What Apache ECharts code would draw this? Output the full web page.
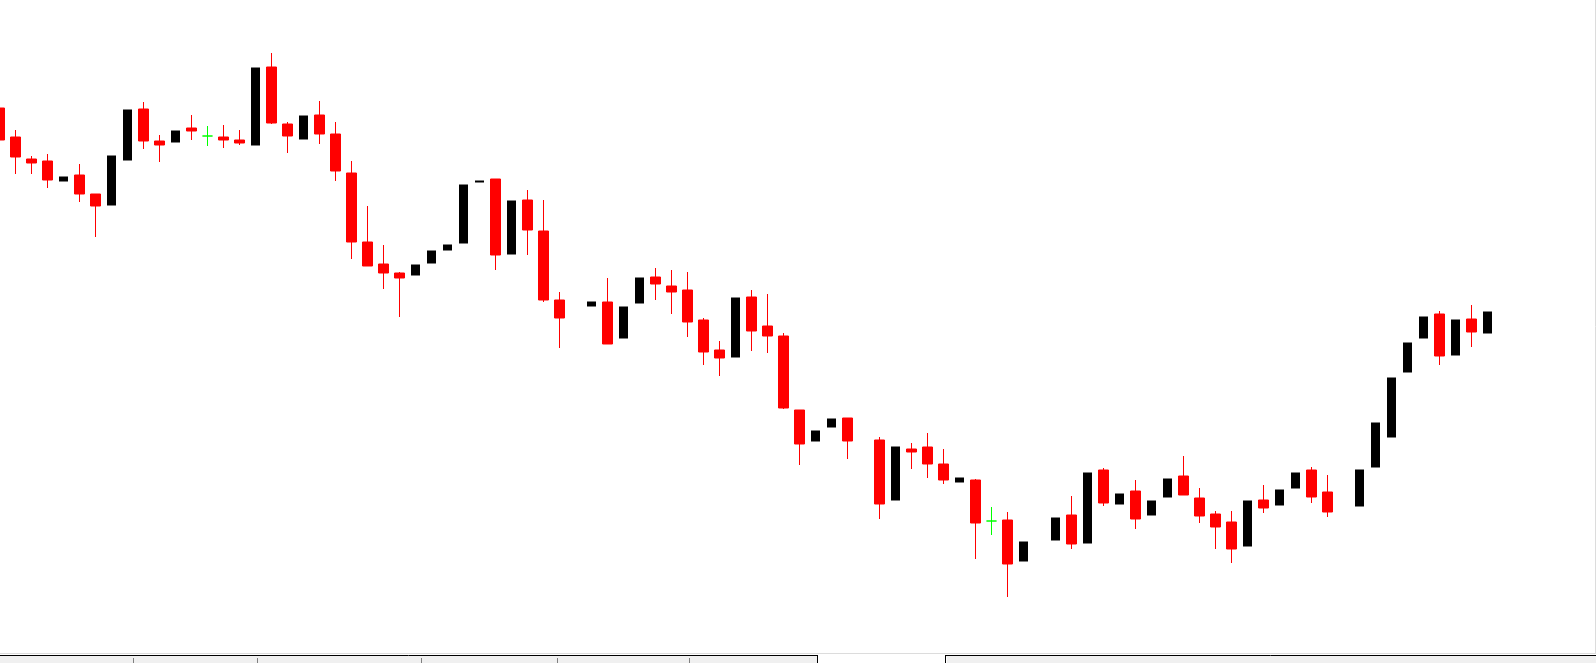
<!DOCTYPE html>
<html>
<head>
<meta charset="utf-8">
<script src="https://cdn.jsdelivr.net/npm/echarts@6/dist/echarts.min.js"></script>
<style>
  html, body { margin: 0; padding: 0; background: #ffffff; }
  #chart { width: 1596px; height: 663px; }
</style>
</head>
<body>
<div id="chart"></div>
<script>
// Candle values (null = empty slot)
const opens = [
  1.1545, 1.1516, 1.1494, 1.1492, 1.1471, 1.1478, 1.1459, 1.1447, 1.1492, 1.1544,
  1.1512, 1.1510, 1.1525, 1.1517, 1.1516, 1.1513, 1.1507, 1.1586, 1.1529, 1.1513,
  1.1538, 1.1519, 1.1480, 1.1411, 1.1389, 1.1380, 1.1377, 1.1389, 1.1402, 1.1409,
  1.1470, 1.1474, 1.1398, 1.1453, 1.1422, 1.1353, null,   1.1346, 1.1351, 1.1314,
  1.1349, 1.1376, 1.1367, 1.1363, 1.1333, 1.1303, 1.1295, 1.1356, 1.1327, 1.1317,
  1.1243, 1.1211, 1.1225, 1.1235, null,   1.1213, 1.1152, 1.1204, 1.1206, 1.1189,
  1.1170, 1.1173, 1.1132, 1.1133, 1.1091, null,   1.1112, 1.1138, 1.1109, 1.1183,
  1.1148, 1.1162, 1.1137, 1.1155, 1.1177, 1.1155, 1.1139, 1.1131, 1.1106, 1.1153,
  1.1147, 1.1164, 1.1183, 1.1161, null,   1.1146, 1.1185, 1.1215, 1.1280, 1.1314,
  1.1339, 1.1297, 1.1334, 1.1319
];
const closes = [
  1.1513, 1.1496, 1.1490, 1.1473, 1.1477, 1.1459, 1.1447, 1.1498, 1.1544, 1.1512,
  1.1508, 1.1523, 1.1522, 1.1517, 1.1513, 1.1510, 1.1586, 1.1530, 1.1517, 1.1538,
  1.1519, 1.1482, 1.1411, 1.1387, 1.1380, 1.1375, 1.1389, 1.1403, 1.1409, 1.1469,
  1.1473, 1.1398, 1.1453, 1.1423, 1.1353, 1.1335, null,   1.1352, 1.1309, 1.1347,
  1.1376, 1.1369, 1.1361, 1.1331, 1.1301, 1.1295, 1.1356, 1.1322, 1.1317, 1.1245,
  1.1209, 1.1223, 1.1235, 1.1212, null,   1.1149, 1.1207, 1.1201, 1.1189, 1.1173,
  1.1176, 1.1130, 1.1132, 1.1089, 1.1112, null,   1.1136, 1.1109, 1.1181, 1.1150,
  1.1160, 1.1134, 1.1153, 1.1175, 1.1158, 1.1137, 1.1126, 1.1104, 1.1153, 1.1145,
  1.1164, 1.1181, 1.1156, 1.1141, null,   1.1184, 1.1231, 1.1276, 1.1311, 1.1337,
  1.1297, 1.1334, 1.1321, 1.1342
];
const lows = [
  1.1513, 1.1479, 1.1479, 1.1465, 1.1471, 1.1451, 1.1416, 1.1447, 1.1492, 1.1504,
  1.1491, 1.1510, 1.1513, 1.1507, 1.1505, 1.1508, 1.1507, 1.1529, 1.1500, 1.1513,
  1.1509, 1.1472, 1.1394, 1.1387, 1.1364, 1.1336, 1.1377, 1.1389, 1.1402, 1.1409,
  1.1470, 1.1383, 1.1398, 1.1398, 1.1351, 1.1305, null,   1.1346, 1.1309, 1.1314,
  1.1349, 1.1353, 1.1339, 1.1316, 1.1288, 1.1277, 1.1295, 1.1302, 1.1300, 1.1244,
  1.1188, 1.1211, 1.1225, 1.1194, null,   1.1134, 1.1152, 1.1184, 1.1175, 1.1169,
  1.1170, 1.1094, 1.1118, 1.1056, 1.1091, null,   1.1112, 1.1104, 1.1109, 1.1147,
  1.1148, 1.1124, 1.1137, 1.1155, 1.1158, 1.1130, 1.1104, 1.1090, 1.1106, 1.1140,
  1.1147, 1.1164, 1.1150, 1.1136, null,   1.1146, 1.1185, 1.1215, 1.1280, 1.1314,
  1.1288, 1.1297, 1.1306, 1.1319
];
const highs = [
  1.1545, 1.1523, 1.1497, 1.1499, 1.1477, 1.1489, 1.1459, 1.1498, 1.1544, 1.1551,
  1.1518, 1.1523, 1.1538, 1.1527, 1.1528, 1.1523, 1.1586, 1.1600, 1.1531, 1.1538,
  1.1552, 1.1531, 1.1492, 1.1447, 1.1408, 1.1381, 1.1389, 1.1403, 1.1409, 1.1469,
  1.1473, 1.1474, 1.1453, 1.1463, 1.1453, 1.1361, null,   1.1352, 1.1375, 1.1347,
  1.1376, 1.1385, 1.1383, 1.1381, 1.1335, 1.1312, 1.1356, 1.1363, 1.1359, 1.1320,
  1.1243, 1.1223, 1.1235, 1.1235, null,   1.1216, 1.1207, 1.1210, 1.1220, 1.1204,
  1.1176, 1.1174, 1.1146, 1.1141, 1.1112, null,   1.1136, 1.1157, 1.1181, 1.1185,
  1.1160, 1.1173, 1.1153, 1.1175, 1.1197, 1.1165, 1.1142, 1.1142, 1.1153, 1.1168,
  1.1164, 1.1181, 1.1186, 1.1178, null,   1.1184, 1.1231, 1.1276, 1.1311, 1.1337,
  1.1342, 1.1334, 1.1348, 1.1342
];
const priceMin = 1.1000;
const priceMax = 1.1653;
const categories = opens.map((_, i) => 'Bar ' + (i + 1));

const W = 1596, H = 663;
const slot = 16;
const gridLeft = -8.5;
const gridHeight = 653;

const seriesData = opens.map((o, i) => {
  if (o === null) return '-';
  const v = [o, closes[i], lows[i], highs[i]];
  if (o === closes[i]) {
    return {
      value: v,
      itemStyle: {
        color: '#00ff00', color0: '#00ff00',
        borderColor: '#00ff00', borderColor0: '#00ff00', borderColorDoji: '#00ff00'
      }
    };
  }
  return v;
});

const chart = echarts.init(document.getElementById('chart'), null, { renderer: 'canvas', width: W, height: H });

const tabSeps = [133, 257, 421, 557, 689];
const graphics = [
  { type: 'line', silent: true, shape: { x1: 1595.5, y1: 0, x2: 1595.5, y2: 653 }, style: { stroke: '#dcdcdc', lineWidth: 1 } },
  { type: 'line', silent: true, shape: { x1: 0, y1: 653.5, x2: 1596, y2: 653.5 }, style: { stroke: '#dcdcdc', lineWidth: 1 } },
  { type: 'rect', silent: true, shape: { x: 0, y: 655, width: 1596, height: 8 }, style: { fill: '#f0f0f0' } },
  { type: 'rect', silent: true, shape: { x: 817, y: 655, width: 128, height: 8 }, style: { fill: '#ffffff' } },
  { type: 'line', silent: true, shape: { x1: 0, y1: 655.5, x2: 817, y2: 655.5 }, style: { stroke: '#000000', lineWidth: 1 } },
  { type: 'line', silent: true, shape: { x1: 945, y1: 655.5, x2: 1596, y2: 655.5 }, style: { stroke: '#000000', lineWidth: 1 } },
  { type: 'line', silent: true, shape: { x1: 817.5, y1: 655, x2: 817.5, y2: 663 }, style: { stroke: '#000000', lineWidth: 1 } },
  { type: 'line', silent: true, shape: { x1: 945.5, y1: 655, x2: 945.5, y2: 663 }, style: { stroke: '#000000', lineWidth: 1 } },
  { type: 'line', silent: true, shape: { x1: 946.5, y1: 657, x2: 946.5, y2: 663 }, style: { stroke: '#ffffff', lineWidth: 1 } }
];
tabSeps.forEach(x => {
  graphics.push({ type: 'line', silent: true, shape: { x1: x + 0.5, y1: 658, x2: x + 0.5, y2: 663 }, style: { stroke: '#808080', lineWidth: 1 } });
});

chart.setOption({
  animation: false,
  backgroundColor: '#ffffff',
  grid: {
    left: gridLeft, top: 0, width: slot * opens.length, height: gridHeight,
    containLabel: false, outerBoundsMode: 'none'
  },
  xAxis: {
    type: 'category',
    data: categories,
    boundaryGap: true,
    show: false
  },
  yAxis: {
    type: 'value',
    min: priceMin,
    max: priceMax,
    show: false,
    splitLine: { show: false }
  },
  series: [{
    type: 'candlestick',
    data: seriesData,
    barWidth: 10,
    silent: true,
    clip: false,
    itemStyle: {
      color: '#000000',
      color0: '#ff0000',
      borderColor: '#ffffff',
      borderColor0: '#ff0000',
      borderColorDoji: '#00ff00',
      borderWidth: 1
    },
    emphasis: { disabled: true }
  }],
  graphic: graphics
});
</script>
</body>
</html>
